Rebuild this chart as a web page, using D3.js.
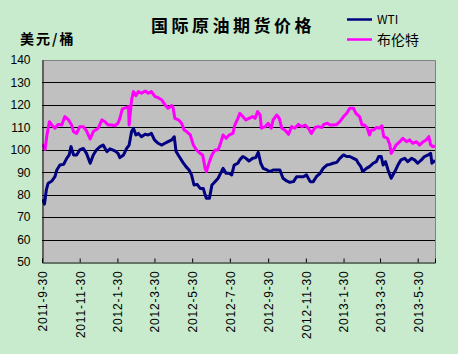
<!DOCTYPE html>
<html>
<head>
<meta charset="utf-8">
<script src="https://cdn.jsdelivr.net/npm/d3@7"></script>
<style>
  html, body { margin: 0; padding: 0; background: #C7EBCC; }
  svg { display: block; }
</style>
</head>
<body>
<svg id="chart" width="458" height="354"></svg>
<script>
// ---- Data (day offsets from 2011-9-30, prices in USD/barrel) ----
const startDate = "2011-9-30";
const endDay = 636;
const wtiDays = [1,4,7,10,16,21,24,29,35,40,44,47,51,56,61,67,72,78,83,88,94,99,105,110,118,123,
  126,132,137,141,145,148,152,156,161,167,172,177,182,188,194,199,204,210,214,217,222,228,233,238,242,246,251,
  256,261,264,266,271,275,280,285,289,293,298,303,307,311,317,320,325,330,335,341,346,350,354,358,364,369,374,380,
  385,390,396,401,407,412,417,423,428,434,439,444,450,455,461,466,471,477,482,488,493,498,504,509,
  511,516,519,525,530,536,541,545,549,552,556,560,565,571,576,581,587,592,598,603,608,614,619,625,629,631,635,636];
const wtiValues = [78,75.8,82.1,85.1,86.1,88,91,93.2,93.5,96.2,97.7,101.4,97.7,97.7,99.9,100.6,98.4,94,97.7,99.9,101.4,102.1,99.2,100.4,99.5,98.4,
  96.5,97.7,100.6,102.1,108.1,109.6,106.6,107.3,105.8,106.9,106.6,107.3,104.4,102.9,102.1,102.9,103.6,104.4,105.8,99.2,97,94.4,92.5,91,88.8,84.3,84.6,
  82.8,82.8,79.9,78.4,78.4,84.3,85.8,87.3,89.5,91.7,89.5,89.5,88.8,93.2,94,95.5,97,96.2,95,96.2,96.5,98.9,94,91.7,91,90.3,91,91,
  91,87.3,86.1,85.5,85.8,88,88,88,88.8,85.8,85.8,88,89.5,91.7,93.2,93.5,94,94.4,96.2,97.7,97,97,96.2,95.5,
  94.4,92.5,90.3,91.7,92.5,94,94.7,97,97,93.2,94.7,91,87.3,90.3,93.2,95.5,96.2,94.7,96.2,95.5,94,95.5,97,97.7,98.4,94,95,95.5];
const brentDays = [1,5,8,12,16,21,26,32,37,43,48,51,56,61,67,72,78,83,91,97,102,107,113,118,123,
  126,130,136,140,141,145,148,152,156,161,167,172,177,183,188,194,199,204,210,212,215,221,226,230,234,240,245,250,256,
  260,264,266,271,275,280,285,289,293,298,303,309,312,317,320,325,330,335,341,345,349,353,355,361,366,371,374,380,384,
  388,393,399,404,409,415,420,426,431,436,442,447,453,456,462,466,471,477,482,488,493,498,504,508,
  511,514,518,522,526,530,533,537,541,546,550,553,559,563,565,570,573,579,584,590,595,600,606,611,617,622,626,629,633,636];
const brentValues = [102.5,100.2,106.6,112.5,111,109.6,111.3,111,114.8,113.3,111,108.1,107.3,110.3,110.3,108.4,104.8,108.1,109.6,113.3,112.5,111,111,110.7,111.8,
  114,118.2,118.8,119.2,111,122.2,125.9,124.1,125.9,125.2,126.2,125.2,125.9,123.7,123.2,122.2,120,118.5,119.7,118.8,114,113.3,111.8,108.8,108.1,106.6,102.1,99.9,98.4,
  97.7,91.7,90.3,94.7,97.7,99.9,99.9,102.9,106.6,105.1,106.6,107.3,111,114,116.2,114.8,113.3,114,114.8,114,117,115.5,109.6,110.3,111.8,109.6,113.3,115.5,114,
  109.6,108.8,106.9,110.3,109.6,111.3,110.3,111,109.6,107.3,109.9,110.3,109.9,111.3,111.8,111,111,111.3,112.5,114.8,116.2,118.5,118.5,116.2,
  115.5,114.8,111,111,109.9,106.6,108.8,108.8,109.9,109.6,110.7,105.9,105.1,102.1,98.4,100.6,102.1,103.6,105.1,103.6,104.4,102.9,103.6,102.1,103.6,104.4,105.9,102.1,101.4,101.8];
const yTicks = [50,60,70,80,90,100,110,120,130,140];
const xTickLabels = ["2011-9-30","2011-11-30","2012-1-30","2012-3-30","2012-5-30","2012-7-30",
  "2012-9-30","2012-11-30","2013-1-30","2013-3-30","2013-5-30"];
const seriesNames = ["WTI","布伦特"];
const seriesColors = ["#000080","#FF00FF"];
const titleText = "国际原油期货价格";
const unitText = "美元/桶";

// ---- Layout ----
const svg = d3.select("#chart");
const plot = {left: 42, right: 435, top: 60, bottom: 262};
const parse = d3.timeParse("%Y-%m-%d");
const t0 = parse(startDate);
const x = d3.scaleTime().domain([t0, d3.timeDay.offset(t0, endDay)]).range([plot.left, plot.right]);
const y = d3.scaleLinear().domain([50, 140]).range([plot.bottom, plot.top]);

svg.append("rect").attr("width", 458).attr("height", 354).attr("fill", "#C7EBCC");
svg.append("rect").attr("x", plot.left).attr("y", plot.top)
  .attr("width", plot.right - plot.left).attr("height", plot.bottom - plot.top)
  .attr("fill", "#C0C0C0");

// gridlines
svg.append("g").selectAll("line").data(yTicks.filter(v => v > 50 && v < 140)).join("line")
  .attr("x1", plot.left).attr("x2", plot.right)
  .attr("y1", d => Math.round(y(d)) + 0.5).attr("y2", d => Math.round(y(d)) + 0.5)
  .attr("stroke", "#000").attr("stroke-width", 1);

// frame top/right
svg.append("path")
  .attr("d", `M${plot.left},${plot.top + 0.5}H${plot.right + 0.5}V${plot.bottom}`)
  .attr("fill", "none").attr("stroke", "#808080").attr("stroke-width", 1);

// series
const clip = svg.append("clipPath").attr("id", "clip").append("rect")
  .attr("x", plot.left).attr("y", plot.top).attr("width", plot.right - plot.left).attr("height", plot.bottom - plot.top);
const line = d3.line().x(d => x(d.date)).y(d => y(d.v));
const mk = (days, vals) => days.map((dd, i) => ({date: d3.timeDay.offset(t0, dd), v: vals[i]}));
const series = [mk(wtiDays, wtiValues), mk(brentDays, brentValues)];
[1, 0].forEach(i => {
  svg.append("path").datum(series[i]).attr("clip-path", "url(#clip)")
    .attr("d", line).attr("fill", "none")
    .attr("stroke", seriesColors[i]).attr("stroke-width", 3)
    .attr("stroke-linejoin", "round");
});

// y axis
const yAxis = svg.append("g").attr("transform", `translate(${plot.left + 0.5},0)`)
  .call(d3.axisLeft(y).tickValues(yTicks).tickSize(0).tickPadding(12));
yAxis.select(".domain").attr("stroke", "#000");
yAxis.selectAll("text").attr("font-family", "Liberation Sans, Arial, sans-serif")
  .attr("font-size", 12).attr("fill", "#000");

// x axis
const xTickDates = xTickLabels.map(parse);
const xAxis = svg.append("g").attr("transform", `translate(0,${plot.bottom + 0.5})`)
  .call(d3.axisBottom(x).tickValues(xTickDates).tickSize(-4).tickFormat((d, i) => xTickLabels[i]));
xAxis.select(".domain").attr("stroke", "#000");
xAxis.selectAll(".tick line").attr("stroke", "#000");
xAxis.selectAll("text")
  .attr("font-family", "Liberation Sans, Arial, sans-serif").attr("font-size", 12)
  .attr("letter-spacing", "0.8px").attr("fill", "#000")
  .attr("text-anchor", "end").attr("transform", "rotate(-90)")
  .attr("x", -8).attr("y", 0).attr("dy", "0.36em");

// title
svg.append("text").attr("x", 233).attr("y", 32).attr("text-anchor", "middle")
  .attr("font-family", "Noto Sans CJK SC").attr("font-weight", "bold")
  .attr("font-size", 17).attr("letter-spacing", "3.5px").attr("fill", "#000")
  .text(titleText);
svg.append("text").attr("x", 20).attr("y", 44)
  .attr("font-family", "Noto Sans CJK SC").attr("font-weight", "bold")
  .attr("font-size", 14).attr("letter-spacing", "2px").attr("fill", "#000")
  .text(unitText);

// legend
const legY = [19.5, 39.5];
seriesNames.forEach((name, i) => {
  svg.append("line").attr("x1", 347).attr("x2", 372).attr("y1", legY[i]).attr("y2", legY[i])
    .attr("stroke", seriesColors[i]).attr("stroke-width", 2.5);
  svg.append("text").attr("x", 377).attr("y", legY[i]).attr("dy", "0.36em")
    .attr("font-family", "Noto Sans CJK SC, Liberation Sans").attr("font-size", i === 0 ? 12 : 14)
    .attr("fill", "#000").text(name);
});
</script>
</body>
</html>
